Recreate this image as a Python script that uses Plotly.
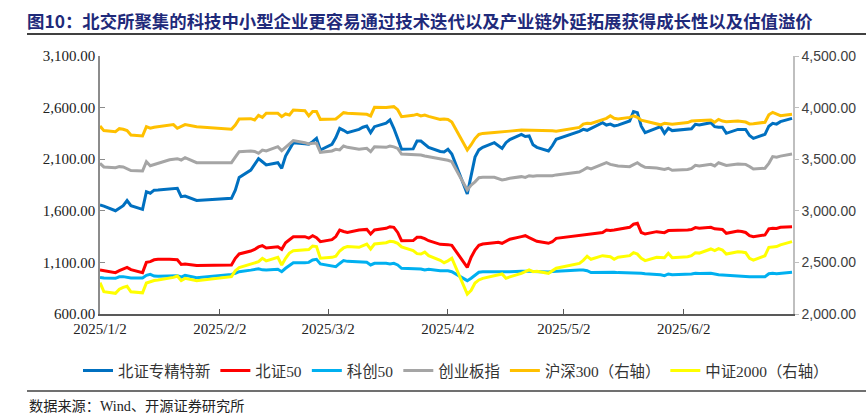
import plotly.graph_objects as go

dates = (
    ["2025-01-%02d" % d for d in [2, 3, 6, 7, 8, 9, 10, 13, 14, 15, 16, 17, 20, 21, 22, 23, 24, 27]]
    + ["2025-02-%02d" % d for d in [5, 6, 7, 10, 11, 12, 13, 14, 17, 18, 19, 20, 21, 24, 25, 26, 27, 28]]
    + ["2025-03-%02d" % d for d in [3, 4, 5, 6, 7, 10, 11, 12, 13, 14, 17, 18, 19, 20, 21, 24, 25, 26, 27, 28, 31]]
    + ["2025-04-%02d" % d for d in [1, 2, 3, 7, 8, 9, 10, 11, 14, 15, 16, 17, 18, 21, 22, 23, 24, 25, 28, 29, 30]]
    + ["2025-05-%02d" % d for d in [6, 7, 8, 9, 12, 13, 14, 15, 16, 19, 20, 21, 22, 23, 26, 27, 28, 29, 30]]
    + ["2025-06-%02d" % d for d in [3, 4, 5, 6, 9, 10, 11, 12, 13, 16, 17, 18, 19, 20, 23, 24, 25, 26, 27, 30]]
)

bz_zjtx = [
    1656, 1645, 1601, 1630, 1650, 1700, 1650, 1614, 1785, 1770, 1800, 1802, 1808, 1812, 1818, 1737, 1743, 1700,
    1721, 1800, 1924, 1995, 2045, 2105, 2075, 2044, 2066, 2012, 2130, 2200, 2260, 2250, 2245, 2270, 2302, 2189,
    2244, 2310, 2399, 2380, 2357, 2389, 2410, 2422, 2357, 2415, 2450, 2480, 2400, 2300, 2196, 2200, 2276, 2276, 2245, 2215, 2175,
    2170, 2196, 2150, 1763, 1947, 2120, 2190, 2215, 2260, 2230, 2205, 2260, 2290, 2341, 2320, 2325, 2240, 2215, 2180, 2230, 2293,
    2370, 2389, 2380, 2399, 2454, 2431, 2440, 2422, 2430, 2470, 2561, 2551, 2420, 2357, 2400, 2415, 2351, 2400, 2377,
    2389, 2395, 2438, 2432, 2454, 2415, 2409, 2409, 2351, 2389, 2389, 2389, 2330, 2302, 2341, 2420, 2448, 2440, 2464, 2496,
]
bz50 = [
    1026, 1020, 1001, 1020, 1035, 1052, 1030, 1001, 1100, 1107, 1125, 1130, 1130, 1130, 1125, 1080, 1085, 1070,
    1075, 1140, 1182, 1210, 1225, 1250, 1262, 1240, 1252, 1227, 1291, 1320, 1349, 1349, 1335, 1359, 1340, 1301,
    1320, 1350, 1414, 1400, 1391, 1414, 1420, 1420, 1375, 1414, 1430, 1446, 1440, 1390, 1310, 1311, 1343, 1343, 1330, 1310, 1275,
    1275, 1272, 1265, 1052, 1150, 1220, 1265, 1278, 1291, 1295, 1285, 1305, 1324, 1350, 1359, 1340, 1320, 1305, 1285, 1300, 1333,
    1360, 1366, 1370, 1375, 1390, 1414, 1410, 1414, 1420, 1440, 1470, 1479, 1390, 1375, 1398, 1395, 1388, 1408, 1408,
    1415, 1418, 1437, 1430, 1440, 1425, 1420, 1420, 1382, 1404, 1400, 1390, 1360, 1349, 1366, 1425, 1430, 1428, 1440, 1446,
]
kc50 = [
    955, 948, 946, 960, 962, 958, 950, 950, 975, 984, 968, 965, 965, 968, 970, 958, 975, 952,
    984, 995, 1010, 1025, 1033, 1039, 1028, 1026, 1033, 1010, 1043, 1070, 1097, 1097, 1100, 1123, 1130, 1085,
    1070, 1059, 1090, 1117, 1110, 1101, 1101, 1101, 1075, 1091, 1091, 1085, 1091, 1075, 1043, 1043, 1036, 1036, 1026, 1033, 1020,
    1022, 1018, 1010, 923, 946, 975, 1005, 1010, 1010, 1008, 1005, 1008, 1010, 1015, 1018, 1015, 1012, 1010, 1008, 1012, 1015,
    1026, 1026, 1020, 1002, 1005, 1004, 1010, 1005, 1001, 1001, 1001, 998, 994, 990, 984, 980, 972, 988, 980,
    984, 988, 994, 992, 994, 985, 980, 978, 975, 972, 968, 965, 962, 962, 962, 990, 994, 990, 995, 1004,
]
cyb = [
    2060, 2025, 2018, 2028, 2025, 2005, 1990, 1986, 2076, 2037, 2050, 2060, 2095, 2100, 2105, 2092, 2115, 2066,
    2066, 2120, 2173, 2180, 2175, 2157, 2189, 2180, 2221, 2183, 2215, 2240, 2280, 2260, 2247, 2254, 2254, 2167,
    2180, 2196, 2190, 2228, 2215, 2196, 2200, 2205, 2173, 2221, 2215, 2228, 2220, 2205, 2150, 2147, 2147, 2140, 2131, 2125, 2102,
    2100, 2090, 2076, 1802, 1850, 1880, 1920, 1924, 1924, 1910, 1899, 1905, 1915, 1931, 1924, 1940, 1935, 1940, 1935, 1940, 1948,
    1975, 1995, 2018, 2005, 2050, 2066, 2050, 2040, 2034, 2028, 2050, 2066, 2040, 2021, 2015, 2005, 2000, 2012, 1993,
    2000, 2010, 2040, 2034, 2050, 2035, 2066, 2055, 2040, 2054, 2054, 2050, 2030, 2005, 2012, 2060, 2125, 2120, 2130, 2150,
]
hs300 = [
    3821, 3777, 3767, 3796, 3790, 3777, 3735, 3725, 3815, 3800, 3810, 3815, 3830, 3835, 3800, 3815, 3835, 3815,
    3790, 3830, 3890, 3893, 3880, 3925, 3906, 3945, 3945, 3912, 3938, 3928, 3977, 3970, 3919, 3961, 3961, 3886,
    3886, 3890, 3920, 3951, 3945, 3935, 3938, 3935, 3919, 4003, 4000, 4003, 4009, 3980, 3912, 3925, 3935, 3919, 3928, 3915, 3886,
    3890, 3885, 3861, 3589, 3640, 3700, 3740, 3750, 3759, 3761, 3770, 3772, 3772, 3784, 3783, 3785, 3786, 3783, 3777, 3775, 3770,
    3808, 3840, 3848, 3846, 3880, 3896, 3920, 3896, 3890, 3905, 3919, 3905, 3878, 3868, 3845, 3833, 3848, 3845, 3838,
    3855, 3870, 3873, 3875, 3880, 3858, 3886, 3870, 3864, 3870, 3868, 3860, 3842, 3843, 3858, 3930, 3954, 3940, 3922, 3936,
]
zz2000 = [
    2304, 2216, 2200, 2240, 2258, 2268, 2215, 2205, 2300, 2313, 2325, 2330, 2345, 2355, 2368, 2323, 2345, 2323,
    2362, 2420, 2449, 2480, 2491, 2507, 2540, 2515, 2549, 2475, 2540, 2590, 2614, 2620, 2625, 2659, 2653, 2540,
    2549, 2560, 2611, 2640, 2653, 2646, 2659, 2678, 2630, 2678, 2691, 2705, 2700, 2685, 2650, 2614, 2585, 2581, 2600, 2565, 2520,
    2497, 2515, 2540, 2192, 2230, 2300, 2330, 2345, 2368, 2375, 2388, 2346, 2360, 2394, 2410, 2427, 2410, 2415, 2394, 2420, 2443,
    2490, 2520, 2560, 2530, 2565, 2560, 2555, 2530, 2550, 2565, 2594, 2580, 2540, 2517, 2549, 2548, 2546, 2588, 2545,
    2555, 2565, 2594, 2590, 2630, 2614, 2633, 2620, 2581, 2604, 2600, 2594, 2540, 2523, 2565, 2646, 2650, 2653, 2670, 2701,
]

series_names = ["北证专精特新", "北证50", "科创50", "创业板指", "沪深300（右轴）", "中证2000（右轴）"]
tick_dates = ["2025-01-02", "2025-02-02", "2025-03-02", "2025-04-02", "2025-05-02", "2025-06-02"]
tick_labels = ["2025/1/2", "2025/2/2", "2025/3/2", "2025/4/2", "2025/5/2", "2025/6/2"]

title_text = "图10：北交所聚集的科技中小型企业更容易通过技术迭代以及产业链外延拓展获得成长性以及估值溢价"
source_text = "数据来源：Wind、开源证券研究所"

colors = ["#0070C0", "#FF0000", "#00B0F0", "#A5A5A5", "#FFC000", "#FFFF00"]
values = [bz_zjtx, bz50, kc50, cyb, hs300, zz2000]
axes = ["y", "y", "y", "y", "y2", "y2"]

fig = go.Figure()
for name, vals, col, ax in zip(series_names, values, colors, axes):
    fig.add_trace(go.Scatter(x=dates, y=vals, name=name, mode="lines",
                             line=dict(color=col, width=3), yaxis=ax))

W, H = 866, 417
L, R, T, B = 100, 73, 56, 103
pw, ph = W - L - R, H - T - B


def px(X):
    return (X - L) / pw


def py(Y):
    return (H - B - Y) / ph


MIX = "Liberation Serif, Noto Sans CJK SC"

fig.update_layout(
    width=W, height=H,
    margin=dict(l=L, r=R, t=T, b=B, autoexpand=False),
    paper_bgcolor="white", plot_bgcolor="white",
    title=dict(text="<b>" + title_text + "</b>", xref="container", yref="container",
               x=27 / W, xanchor="left", y=1 - 22 / H, yanchor="middle",
               font=dict(family="Noto Sans CJK SC", size=17.4, color="#1F2A7A")),
    showlegend=True,
    legend=dict(orientation="h", x=px(78), xanchor="left", y=py(371), yanchor="middle",
                font=dict(family=MIX, size=15.4, color="#333333"),
                itemwidth=30, tracegroupgap=0, bgcolor="rgba(0,0,0,0)"),
    xaxis=dict(type="date", range=["2025-01-02", "2025-06-30 06:00"],
               tickvals=tick_dates, ticktext=tick_labels,
               ticks="inside", ticklen=5, tickcolor="#595959",
               showline=True, linecolor="#595959", linewidth=1.5,
               showgrid=False, zeroline=False,
               tickfont=dict(family="Liberation Serif", size=15, color="#222222")),
    yaxis=dict(range=[600, 3100], tick0=600, dtick=500, tickformat=",.2f",
               ticks="inside", ticklen=5, tickcolor="#8c8c8c",
               showline=True, linecolor="#8c8c8c", linewidth=1.5,
               showgrid=False, zeroline=False,
               tickfont=dict(family="Liberation Serif", size=15, color="#222222")),
    yaxis2=dict(range=[2000, 4500], tick0=2000, dtick=500, tickformat=",.2f",
                overlaying="y", side="right",
                ticks="outside", ticklen=4, tickcolor="#bfbfbf",
                showline=True, linecolor="#bfbfbf", linewidth=1.5,
                showgrid=False, zeroline=False,
                tickfont=dict(family="Liberation Sans", size=14, color="#404040")),
    shapes=[
        dict(type="line", xref="paper", yref="paper", x0=px(27), x1=px(W), y0=py(34), y1=py(34),
             line=dict(color="#404040", width=2)),
        dict(type="line", xref="paper", yref="paper", x0=px(27), x1=px(W), y0=py(391), y1=py(391),
             line=dict(color="#404040", width=1.5)),
    ],
    annotations=[
        dict(text=source_text, xref="paper", yref="paper", x=px(27), y=py(406),
             xanchor="left", yanchor="middle", showarrow=False,
             font=dict(family=MIX, size=14.2, color="#222222")),
    ],
)

fig.write_html("out.html", config={"displayModeBar": False},
               post_script="document.body.style.margin='0';document.body.style.overflow='hidden';")
